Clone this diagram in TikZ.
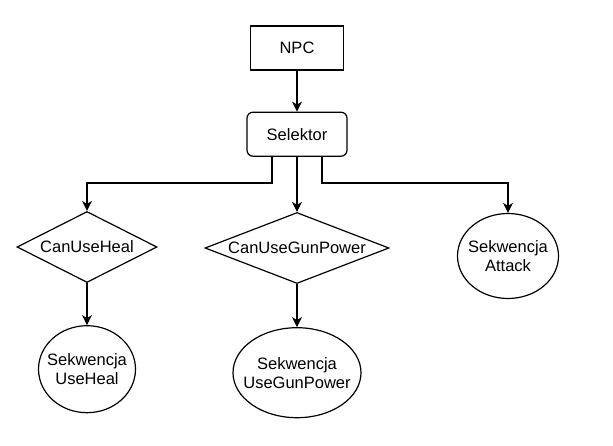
\documentclass[tikz,border=0pt]{standalone}
\usepackage{fontspec}
\setmainfont{Liberation Sans}
\usepackage{tikz}
\usetikzlibrary{arrows.meta,positioning,shapes.geometric}

\begin{document}
\begin{tikzpicture}[
  x=1pt, y=-1pt,
  node distance=42pt,
  every node/.style={font=\fontsize{16.5}{19}\selectfont, line width=1.2pt},
  box/.style={draw, minimum width=93pt, minimum height=44pt, align=center},
  cond/.style={draw, diamond, aspect=2.6, inner sep=0pt, minimum height=71pt},
  seq/.style={draw, ellipse, inner xsep=-12pt, align=center},
  arrow/.style={-{Stealth[length=10pt, width=10pt, inset=3pt]}, line width=1.2pt}
]
  \useasboundingbox (0,0) rectangle (613,446);

  % Nodes
  \node[box] (npc) at (297,48) {NPC};
  \node[box, rounded corners=6pt, minimum width=100pt, below=41pt of npc] (sel) {Selektor};
  \node[cond, minimum width=140pt] (heal) at (87,247) {CanUseHeal};
  \node[cond, minimum width=184pt] (gun) at (297,248) {CanUseGunPower};
  \node[seq, minimum width=97pt, minimum height=87pt, below=42pt of heal] (useheal) {Sekwencja\\UseHeal};
  \node[seq, minimum width=128pt, minimum height=90pt, below=43pt of gun] (usegun) {Sekwencja\\UseGunPower};
  \node[seq, minimum width=101pt, minimum height=85pt] (attack) at (508,256) {Sekwencja\\Attack};
  \coordinate (bus) at (297,183);

  % Arrows
  \draw[arrow] (npc) -- (sel);
  \draw[arrow] ([xshift=-25pt]sel.south) |- (bus -| heal.north) -- (heal.north);
  \draw[arrow] (sel.south) -- (gun.north);
  \draw[arrow] ([xshift=25pt]sel.south) |- (bus -| attack.north) -- (attack.north);
  \draw[arrow] (heal) -- (useheal);
  \draw[arrow] (gun) -- (usegun);
\end{tikzpicture}
\end{document}
